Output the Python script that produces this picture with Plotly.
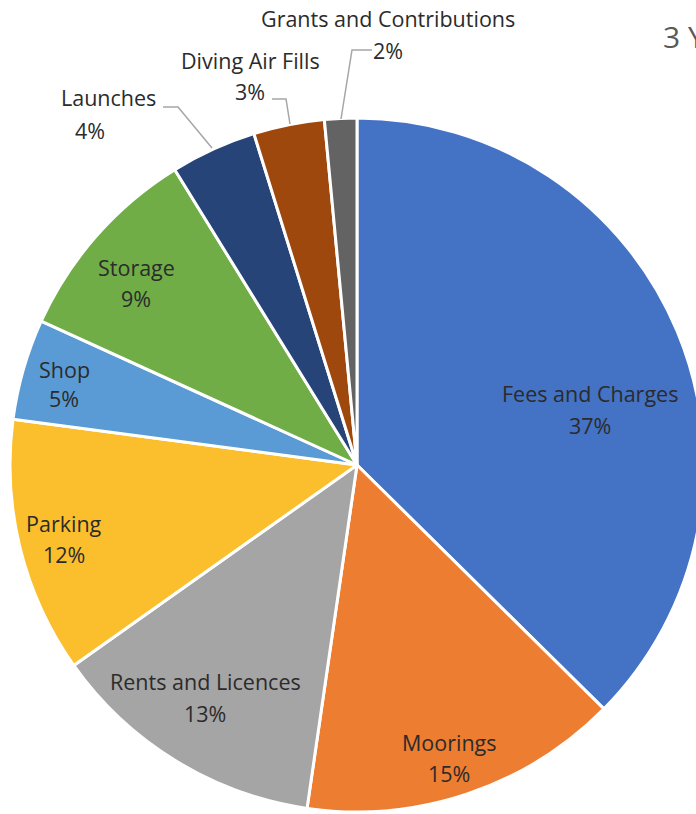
import plotly.graph_objects as go

categories = ["Fees and Charges", "Moorings", "Rents and Licences", "Parking", "Shop",
              "Storage", "Launches", "Diving Air Fills", "Grants and Contributions"]
shares = [37.4, 14.9, 12.9, 11.9, 4.7, 9.4, 4.0, 3.3, 1.5]
colors = ["#4472C4", "#ED7D31", "#A5A5A5", "#FBBF2D", "#5B9BD5",
          "#70AD47", "#264478", "#9E480E", "#636363"]
title_text = "3 Y"

W, H = 712, 814
cx, cy, R = 357, 465, 347

def px(x):
    return x / W

def py(y):
    return 1 - y / H

total = sum(shares)
pct = [f"{round(v / total * 100)}%" for v in shares]

fig = go.Figure(go.Pie(
    labels=categories, values=shares, sort=False, direction="clockwise", rotation=0,
    marker=dict(colors=colors, line=dict(color="white", width=3)),
    textinfo="none", hoverinfo="label+percent", showlegend=False,
    domain=dict(x=[px(cx - R), px(cx + R)], y=[py(cy + R), py(cy - R)]),
))

# label positions (screen pixel centres of name line, percent line)
label_pos = {
    "Fees and Charges": (590, 393, 425),
    "Moorings": (449, 742, 773),
    "Rents and Licences": (205, 681, 713),
    "Parking": (64, 523, 554),
    "Shop": (64, 369, 399),
    "Storage": (136, 267, 298),
    "Launches": (108, 97, 130),
    "Diving Air Fills": (250, 60, 91),
    "Grants and Contributions": (388, 19, 50),
}
pct_x = {"Launches": 90, "Diving Air Fills": 250, "Grants and Contributions": 388}

font = dict(family="Open Sans, sans-serif", size=21.5, color="#2b2b2b")
ann = []
for name, p in zip(categories, pct):
    x, y1, y2 = label_pos[name]
    ann.append(dict(x=px(x), y=py(y1), xref="paper", yref="paper", text=name,
                    showarrow=False, font=font, xanchor="center", yanchor="middle"))
    ann.append(dict(x=px(pct_x.get(name, x)), y=py(y2), xref="paper", yref="paper", text=p,
                    showarrow=False, font=font, xanchor="center", yanchor="middle"))

ann.append(dict(x=px(661), y=py(37), xref="paper", yref="paper", text=title_text,
                showarrow=False, xanchor="left", yanchor="middle",
                font=dict(family="Open Sans, sans-serif", size=30, color="#595959")))

def path(points):
    s = "M " + " L ".join(f"{px(x)},{py(y)}" for x, y in points)
    return dict(type="path", path=s, xref="paper", yref="paper",
                line=dict(color="#A6A6A6", width=1.5))

shapes = [
    path([(163, 107), (178, 107), (212, 148)]),
    path([(272, 99), (286, 99), (290, 124)]),
    path([(372, 50), (352, 50), (341, 119)]),
]

fig.update_layout(width=W, height=H, margin=dict(l=0, r=0, t=0, b=0),
                  paper_bgcolor="white", plot_bgcolor="white",
                  annotations=ann, shapes=shapes)

fig.write_html("out.html", config={"displayModeBar": False},
               post_script="document.body.style.margin='0';document.body.style.overflow='hidden';")
